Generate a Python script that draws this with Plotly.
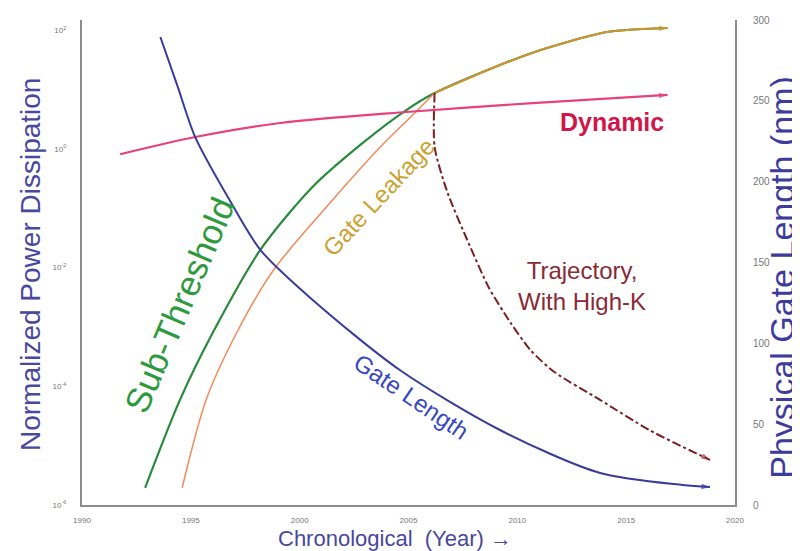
import plotly.graph_objects as go

# ---- data ----
years_sub = [1992.9, 1994.5, 1996.0, 1998.2, 2000.6, 2002.9, 2004.9, 2006.2, 2009.2, 2010.8, 2012.3, 2013.3, 2014.1, 2015.3, 2016.9]
sub_threshold = [1.95e-6, 5.9e-5, 7.9e-4, 0.02, 0.23, 1.26, 4.5, 8.7, 25.8, 42.8, 63, 79.4, 92.9, 102.3, 108.4]

years_leak = [1994.6, 1995.7, 1997.1, 1998.8, 2001.4, 2003.7, 2005.1, 2006.2, 2009.2, 2010.8, 2012.3, 2013.3, 2014.1, 2015.3, 2016.9]
gate_leakage = [1.95e-6, 5.9e-5, 7.9e-4, 9.1e-3, 0.123, 1.07, 3.44, 8.7, 25.8, 42.8, 63, 79.4, 92.9, 102.3, 108.4]
leak_merge_index = 7

years_dyn = [1991.75, 1995.2, 1999.1, 2004.9, 2010.7, 2016.9]
dynamic = [0.81, 1.58, 2.72, 4.17, 5.9, 8.1]

years_len = [1993.6, 1994.4, 1995.2, 1996.7, 1998.2, 2000.6, 2004.6, 2009.2, 2013.8, 2017.6, 2018.85]
gate_length_nm = [289.5, 258.6, 227.6, 190.5, 157.7, 126.8, 83.5, 46.4, 19.8, 12.4, 11.1]

years_traj = [2006.2, 2006.2, 2006.8, 2007.8, 2008.7, 2009.7, 2010.6, 2011.7, 2013.8, 2016.1, 2018.85]
trajectory_highk = [8.7, 1.07, 0.18, 0.024, 4.53e-3, 1.16e-3, 4.08e-4, 1.74e-4, 5.9e-5, 1.8e-5, 5.75e-6]

x_ticks = [1990, 1995, 2000, 2005, 2010, 2015, 2020]
y_left_ticks = [1e-6, 1e-4, 1e-2, 1e0, 1e2]
y_left_text = ["10<sup>-6</sup>", "10<sup>-4</sup>", "10<sup>-2</sup>", "10<sup>0</sup>", "10<sup>2</sup>"]
y_right_ticks = [0, 50, 100, 150, 200, 250, 300]

FONT = "Liberation Sans, Arial, sans-serif"


def arrow_sizes(n, size):
    return [0] * (n - 1) + [size]


fig = go.Figure()

fig.add_trace(go.Scatter(
    x=years_sub, y=sub_threshold, mode="lines", yaxis="y",
    line=dict(color="#2a8a3c", width=2.2, shape="spline", smoothing=0.8),
    name="Sub-Threshold", showlegend=False, hoverinfo="skip"))

fig.add_trace(go.Scatter(
    x=years_leak[:leak_merge_index + 1], y=gate_leakage[:leak_merge_index + 1],
    mode="lines", yaxis="y",
    line=dict(color="#f3895a", width=1.5, shape="spline", smoothing=0.8),
    name="Gate Leakage", showlegend=False, hoverinfo="skip"))

up_x = years_leak[leak_merge_index:]
up_y = gate_leakage[leak_merge_index:]
fig.add_trace(go.Scatter(
    x=up_x, y=up_y, mode="lines+markers", yaxis="y",
    line=dict(color="#cf9432", width=2.2, shape="spline", smoothing=0.8),
    marker=dict(symbol="arrow", angleref="previous", size=arrow_sizes(len(up_x), 9),
                color="#cf9432", line=dict(width=0)),
    name="Gate Leakage", showlegend=False, hoverinfo="skip"))

fig.add_trace(go.Scatter(
    x=years_dyn, y=dynamic, mode="lines+markers", yaxis="y",
    line=dict(color="#e8407c", width=2.2, shape="spline", smoothing=0.8),
    marker=dict(symbol="arrow", angleref="previous", size=arrow_sizes(len(years_dyn), 9),
                color="#e8407c", line=dict(width=0)),
    name="Dynamic", showlegend=False, hoverinfo="skip"))

fig.add_trace(go.Scatter(
    x=years_traj, y=trajectory_highk, mode="lines+markers", yaxis="y",
    line=dict(color="#7a1f22", width=2, dash="dashdot", shape="spline", smoothing=0.7),
    marker=dict(symbol="arrow", angleref="previous", size=arrow_sizes(len(years_traj), 9),
                color="#a01e22", line=dict(width=0)),
    name="Trajectory, With High-K", showlegend=False, hoverinfo="skip"))

fig.add_trace(go.Scatter(
    x=years_len, y=gate_length_nm, mode="lines+markers", yaxis="y2",
    line=dict(color="#3b3b9c", width=2, shape="spline", smoothing=0.8),
    marker=dict(symbol="arrow", angleref="previous", size=arrow_sizes(len(years_len), 9),
                color="#3b3b9c", line=dict(width=0)),
    name="Gate Length", showlegend=False, hoverinfo="skip"))

annotations = [
    dict(text="<b>Dynamic</b>", x=0.8116, y=0.7897, font=dict(size=25, color="#d0164a")),
    dict(text="Gate Leakage", x=0.4533, y=0.635, textangle=-47, font=dict(size=24, color="#c9a232")),
    dict(text="Sub-Threshold", x=0.150, y=0.4124, textangle=-67, font=dict(size=35, color="#2e9a3e")),
    dict(text="Gate Length", x=0.5038, y=0.2227, textangle=34, font=dict(size=24, color="#3848c0")),
    dict(text="Trajectory,<br>With High-K", x=0.7657, y=0.4515, font=dict(size=24, color="#8a2a35")),
    dict(text="Normalized Power Dissipation", x=-0.0796, y=0.4948, textangle=-90,
         font=dict(size=28, color="#48489e")),
    dict(text="Physical Gate Length (nm)", x=1.0715, y=0.47, textangle=-90,
         font=dict(size=34, color="#3c3c9c")),
    dict(text="Chronological  (Year) \u2192", x=0.4793, y=-0.07,
         font=dict(size=22, color="#48489e")),
]
for a in annotations:
    a.update(xref="paper", yref="paper", showarrow=False, xanchor="center", yanchor="middle")

# page body has an 8px margin; figure sized to fit the 800x551 window
fig.update_layout(
    width=792, height=543,
    margin=dict(l=74, r=65, t=12, b=46, autoexpand=False),
    paper_bgcolor="white", plot_bgcolor="white",
    font=dict(family=FONT),
    showlegend=False,
    annotations=annotations,
    xaxis=dict(range=[1990, 2020], tickvals=x_ticks, showgrid=False, zeroline=False,
               showline=True, linecolor="#8c8c8c", linewidth=2, ticks="", automargin=False,
               tickfont=dict(size=8, color="#777777"), ticklabelstandoff=6),
    yaxis=dict(type="log", range=[-6, 2.17], tickvals=y_left_ticks, ticktext=y_left_text,
               showgrid=False, zeroline=False, showline=True, linecolor="#8c8c8c", linewidth=2,
               ticks="", automargin=False,
               tickfont=dict(size=8, color="#777777"), ticklabelstandoff=12),
    yaxis2=dict(range=[0, 300], tickvals=y_right_ticks, overlaying="y", side="right",
                showgrid=False, zeroline=False, showline=True, linecolor="#8c8c8c", linewidth=2,
                ticks="", automargin=False,
                tickfont=dict(size=10, color="#777777"), ticklabelstandoff=14),
)

fig.write_html("out.html")
